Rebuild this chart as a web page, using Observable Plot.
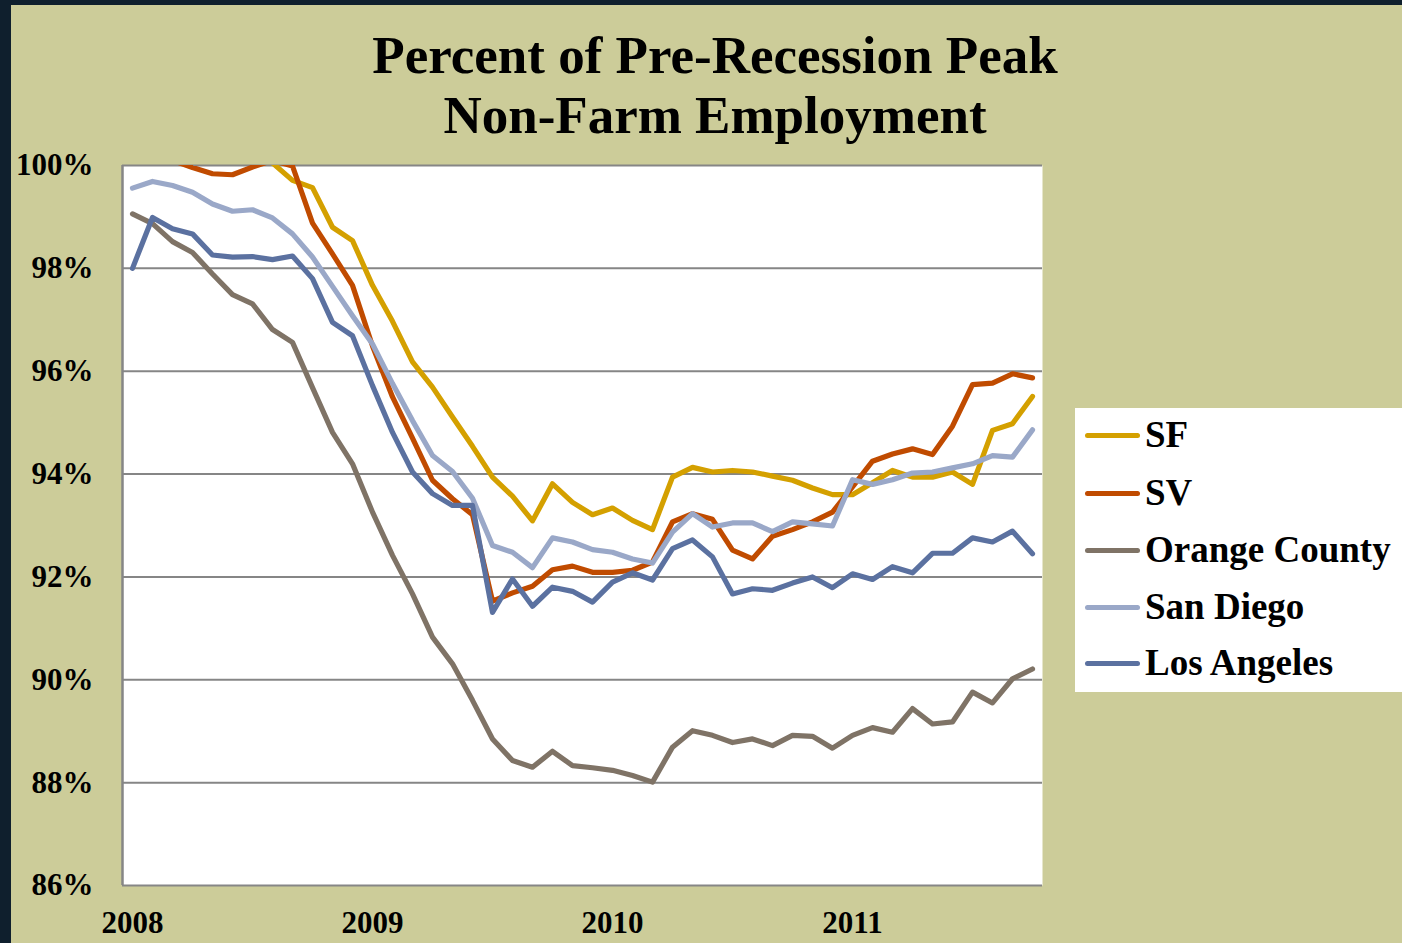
<!DOCTYPE html>
<html>
<head>
<meta charset="utf-8">
<script src="https://cdn.jsdelivr.net/npm/d3@7"></script>
<script src="https://cdn.jsdelivr.net/npm/@observablehq/plot@0.6"></script>
<style>
  html, body { margin: 0; padding: 0; }
  body { width: 1402px; height: 943px; overflow: hidden; background: #0f1f2d; position: relative;
         font-family: "Liberation Serif", "Times New Roman", serif; }
  #page { position: absolute; left: 11px; top: 5px; right: 0; bottom: 0; background: #cccc99; }
  #title { position: absolute; left: 315px; top: 25px; width: 800px; text-align: center;
           font-size: 53px; line-height: 60px; font-weight: bold; color: #000; }
  #chart { position: absolute; left: 0; top: 150px; }
  #legend { position: absolute; left: 1075px; top: 408px; width: 327px; height: 284px; background: #fff; }
  .item { position: absolute; left: 0; height: 40px; }
  .sw { position: absolute; left: 10px; width: 55px; height: 5px; border-radius: 3px; }
  .lab { position: absolute; left: 70px; font-size: 37px; font-weight: bold; white-space: nowrap; line-height: 40px; top: 0; }
</style>
</head>
<body>
<div id="page"></div>
<div id="title">Percent of Pre-Recession Peak<br>Non-Farm Employment</div>
<div id="chart"></div>
<div id="legend"></div>
<script>
// Monthly data, Jan 2008 – Oct 2011 (percent of pre-recession peak)
const seriesNames = ["SF", "SV", "Orange County", "San Diego", "Los Angeles"];
const seriesColors = ["#d4a000", "#c04b00", "#7f7366", "#9aa8c8", "#5b71a0"];
const yearLabels = ["2008", "2009", "2010", "2011"];
const yTicks = [86, 88, 90, 92, 94, 96, 98, 100];

const sf = [100.6, 100.9, 100.8, 100.9, 100.7, 100.9, 100.6, 100.05, 99.71, 99.57, 98.80, 98.54,
  97.67, 96.97, 96.18, 95.69, 95.11, 94.54, 93.94, 93.57, 93.09, 93.81, 93.45, 93.21,
  93.34, 93.10, 92.92, 93.94, 94.13, 94.04, 94.07, 94.04, 93.96, 93.88, 93.73, 93.60,
  93.60, 93.83, 94.07, 93.94, 93.94, 94.04, 93.80, 94.85, 94.98, 95.51];
const sv = [100.3, 100.4, 100.1, 99.96, 99.84, 99.82, 99.97, 100.1, 99.99, 98.88, 98.28, 97.67,
  96.49, 95.50, 94.70, 93.88, 93.52, 93.21, 91.53, 91.69, 91.82, 92.14, 92.21, 92.09,
  92.09, 92.13, 92.29, 93.07, 93.23, 93.12, 92.52, 92.35, 92.79, 92.92, 93.07, 93.26,
  93.75, 94.25, 94.39, 94.49, 94.38, 94.93, 95.74, 95.77, 95.95, 95.87];
const orangeCounty = [99.06, 98.87, 98.52, 98.31, 97.89, 97.49, 97.31, 96.81, 96.56, 95.68, 94.81, 94.20,
  93.26, 92.42, 91.67, 90.83, 90.31, 89.60, 88.85, 88.43, 88.30, 88.61, 88.33, 88.29,
  88.24, 88.14, 88.01, 88.69, 89.01, 88.92, 88.78, 88.85, 88.72, 88.92, 88.90, 88.67,
  88.92, 89.07, 88.98, 89.44, 89.14, 89.18, 89.76, 89.55, 90.02, 90.21];
const sanDiego = [99.56, 99.69, 99.61, 99.48, 99.25, 99.11, 99.14, 98.98, 98.67, 98.22, 97.65, 97.08,
  96.53, 95.76, 95.04, 94.36, 94.05, 93.53, 92.61, 92.48, 92.18, 92.76, 92.68, 92.53,
  92.48, 92.35, 92.27, 92.87, 93.23, 92.97, 93.05, 93.05, 92.88, 93.07, 93.03, 92.99,
  93.89, 93.80, 93.89, 94.02, 94.04, 94.12, 94.20, 94.36, 94.33, 94.86];
const losAngeles = [98.0, 98.99, 98.77, 98.67, 98.26, 98.22, 98.23, 98.17, 98.24, 97.80, 96.95, 96.69,
  95.72, 94.81, 94.04, 93.62, 93.39, 93.39, 91.31, 91.96, 91.43, 91.80, 91.72, 91.51,
  91.90, 92.08, 91.94, 92.55, 92.72, 92.39, 91.67, 91.77, 91.74, 91.88, 92.00, 91.79,
  92.06, 91.95, 92.20, 92.08, 92.46, 92.46, 92.76, 92.68, 92.89, 92.45];

const seriesValues = [sf, sv, orangeCounty, sanDiego, losAngeles];
const rows = seriesNames.flatMap((name, k) =>
  seriesValues[k].map((v, i) => ({ series: name, month: i, value: v })));

const font = "Liberation Serif";
const plot = Plot.plot({
  width: 1402,
  height: 793,
  marginTop: 15,
  marginBottom: 58,
  marginLeft: 122,
  marginRight: 360,
  style: { background: "transparent", fontFamily: font, color: "#000", overflow: "visible" },
  x: { type: "linear", domain: [-0.5, 45.5], label: null },
  y: { domain: [86, 100], label: null },
  color: { domain: seriesNames, range: seriesColors },
  marks: [
    Plot.frame({ fill: "#ffffff", stroke: null }),
    Plot.gridY(yTicks, { stroke: "#868686", strokeOpacity: 1, strokeWidth: 2 }),
    Plot.ruleX([-0.5], { stroke: "#868686", strokeWidth: 2.5 }),
    ...seriesNames.map(name => Plot.lineY(rows.filter(d => d.series === name), {
      x: "month", y: "value", stroke: "series", strokeWidth: 5.2,
      strokeLinejoin: "round", strokeLinecap: "round", clip: true
    })),
    Plot.axisY(yTicks, {
      tickSize: 0, tickPadding: 29, tickFormat: d => d + "%",
      fontSize: 31, fontWeight: "bold", fontFamily: font, fill: "#000", label: null
    }),
    Plot.axisX(yearLabels.map((_, k) => k * 12), {
      tickSize: 0, tickPadding: 25, tickFormat: i => yearLabels[i / 12],
      fontSize: 31, fontWeight: "bold", fontFamily: font, fill: "#000", label: null
    })
  ]
});
document.getElementById("chart").appendChild(plot);

// Legend
const legend = document.getElementById("legend");
const centers = [27, 85, 142, 199, 255];
seriesNames.forEach((name, k) => {
  const item = document.createElement("div");
  item.className = "item";
  item.style.top = (centers[k] - 20) + "px";
  item.style.width = "327px";
  const sw = document.createElement("div");
  sw.className = "sw";
  sw.style.background = seriesColors[k];
  sw.style.top = "17.5px";
  const lab = document.createElement("div");
  lab.className = "lab";
  lab.textContent = name;
  item.appendChild(sw);
  item.appendChild(lab);
  legend.appendChild(item);
});
</script>
</body>
</html>
